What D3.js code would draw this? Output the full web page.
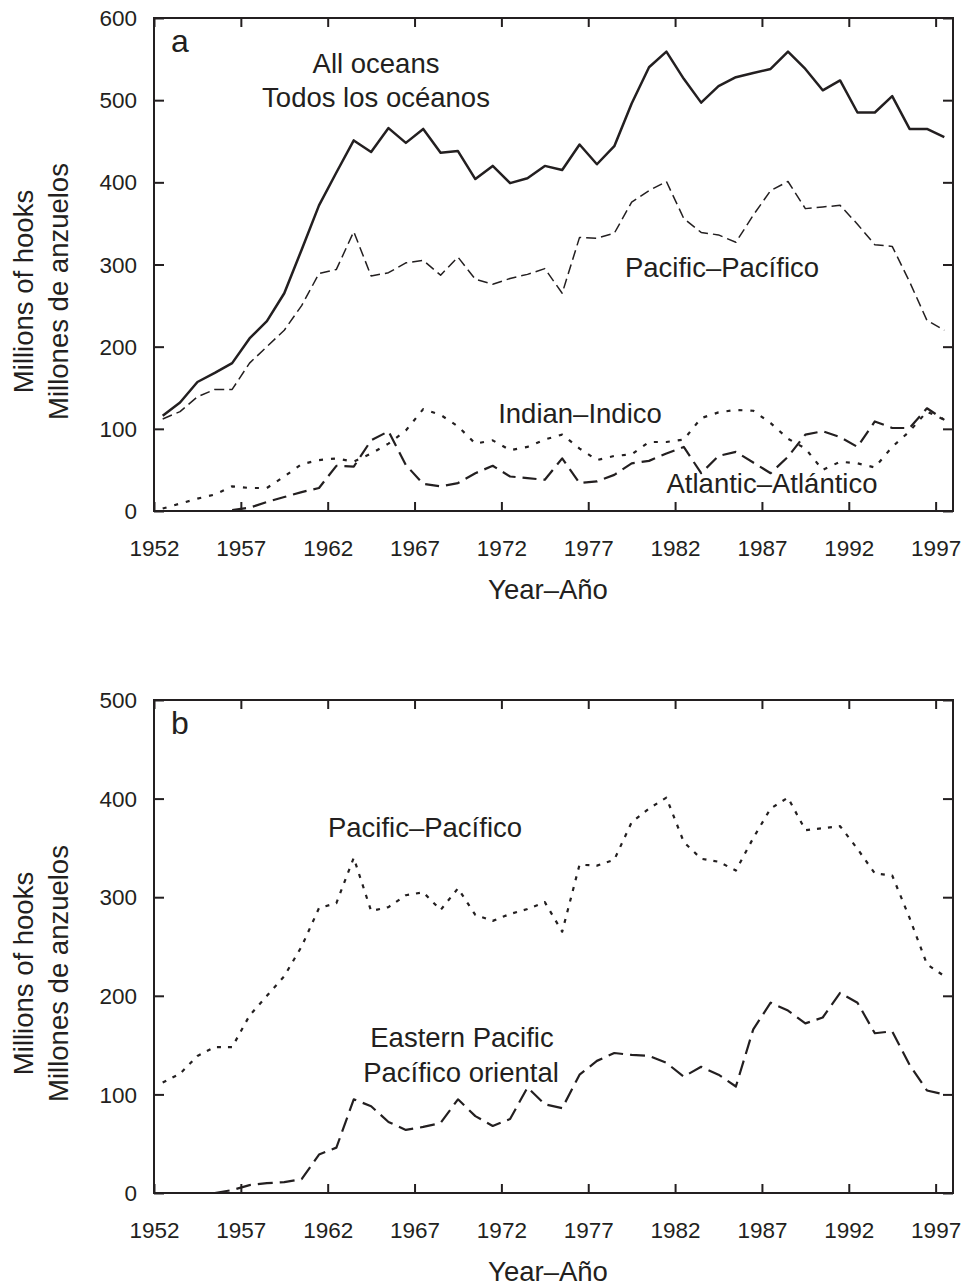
<!DOCTYPE html>
<html>
<head>
<meta charset="utf-8">
<script src="https://cdn.jsdelivr.net/npm/d3@7"></script>
<style>
  body { margin: 0; background: #fff; }
  svg { display: block; font-family: "Liberation Sans", Arial, Helvetica, sans-serif; }
  .axis text { font-size: 22.5px; fill: #231f20; }
  .axis line { stroke: #231f20; stroke-width: 2px; }
  .label { font-size: 27.5px; fill: #231f20; }
</style>
</head>
<body>
<svg id="chart"></svg>
<script>
const years = [1952, 1953, 1954, 1955, 1956, 1957, 1958, 1959, 1960, 1961,
  1962, 1963, 1964, 1965, 1966, 1967, 1968, 1969, 1970, 1971,
  1972, 1973, 1974, 1975, 1976, 1977, 1978, 1979, 1980, 1981,
  1982, 1983, 1984, 1985, 1986, 1987, 1988, 1989, 1990, 1991,
  1992, 1993, 1994, 1995, 1996, 1997];

const xTicks = [1952, 1957, 1962, 1967, 1972, 1977, 1982, 1987, 1992, 1997];
const yTicksA = [0, 100, 200, 300, 400, 500, 600];
const yTicksB = [0, 100, 200, 300, 400, 500];

// millions of hooks, one value per year
const allOceans = [116, 132, 157, 168, 180, 210, 231, 265, 318, 372,
  412, 451, 437, 466, 448, 465, 436, 438, 404, 420,
  399, 405, 420, 415, 446, 422, 444, 496, 540, 559,
  526, 497, 517, 528, 533, 538, 559, 538, 512, 524,
  485, 485, 505, 465, 465, 455];

const pacific = [112, 121, 139, 148, 148, 180, 200, 220, 250, 289,
  294, 340, 286, 290, 302, 305, 287, 309, 282, 276,
  283, 288, 295, 265, 333, 332, 338, 376, 390, 401,
  356, 339, 336, 327, 360, 390, 401, 368, 370, 372,
  349, 324, 322, 279, 232, 220];

const indian = [3, 9, 15, 20, 30, 28, 28, 42, 57, 62,
  64, 60, 70, 82, 98, 124, 117, 103, 82, 86,
  74, 78, 87, 93, 76, 62, 67, 69, 84, 84,
  87, 113, 120, 123, 122, 107, 88, 76, 50, 60,
  58, 53, 78, 97, 121, 111];

const atlantic = [null, null, null, null, 1, 4, 11, 17, 23, 28,
  55, 54, 86, 97, 56, 33, 30, 34, 46, 55,
  42, 40, 38, 64, 34, 36, 44, 58, 61, 70,
  78, 46, 67, 72, 59, 46, 66, 93, 97, 90,
  78, 109, 101, 101, 125, 111];

const easternPacific = [null, null, null, 0, 3, 8, 10, 11, 14, 39,
  46, 95, 88, 72, 64, 67, 71, 95, 78, 68,
  75, 107, 90, 86, 120, 134, 142, 140, 139, 132,
  118, 128, 120, 108, 166, 193, 185, 172, 178, 203,
  193, 162, 164, 130, 104, 100];

const ink = '#231f20';
const width = 967, height = 1286;

const svg = d3.select('#chart')
  .attr('width', width)
  .attr('height', height);

// the same year scale serves both panels
const x = d3.scaleLinear()
  .domain([1952, 1998])
  .range([154, 953]);

function drawPanel(cfg) {
  const { top, bottom, yMax, yTicks, letter, series, labels } = cfg;

  const y = d3.scaleLinear()
    .domain([0, yMax])
    .range([bottom, top]);

  const g = svg.append('g');

  g.append('g')
    .attr('class', 'axis')
    .attr('transform', `translate(0, ${bottom})`)
    .call(d3.axisBottom(x).tickValues(xTicks).tickFormat(d3.format('d'))
      .tickSizeInner(-9).tickSizeOuter(0).tickPadding(29))
    .call(s => s.select('.domain').remove());

  g.append('g')
    .attr('class', 'axis')
    .attr('transform', `translate(0, ${top})`)
    .call(d3.axisTop(x).tickValues(xTicks).tickFormat('')
      .tickSizeInner(-9).tickSizeOuter(0))
    .call(s => s.select('.domain').remove());

  g.append('g')
    .attr('class', 'axis')
    .attr('transform', `translate(${x.range()[0]}, 0)`)
    .call(d3.axisLeft(y).tickValues(yTicks)
      .tickSizeInner(-10).tickSizeOuter(0).tickPadding(17))
    .call(s => s.select('.domain').remove())
    .call(s => s.selectAll('text').attr('dy', '0.34em'));

  g.append('g')
    .attr('class', 'axis')
    .attr('transform', `translate(${x.range()[1]}, 0)`)
    .call(d3.axisRight(y).tickValues(yTicks).tickFormat('')
      .tickSizeInner(-10).tickSizeOuter(0))
    .call(s => s.select('.domain').remove());

  g.append('rect')
    .attr('x', x.range()[0])
    .attr('y', top)
    .attr('width', x.range()[1] - x.range()[0])
    .attr('height', bottom - top)
    .attr('fill', 'none')
    .attr('stroke', ink)
    .attr('stroke-width', 2);

  const line = d3.line()
    .defined(d => d.v != null)
    .x(d => x(d.year + 0.5))
    .y(d => y(d.v));

  series.forEach(s => {
    const pts = years.map((yr, i) => ({ year: yr, v: s.values[i] }));
    g.append('path')
      .datum(pts)
      .attr('d', line)
      .attr('fill', 'none')
      .attr('stroke', ink)
      .attr('stroke-width', s.width)
      .attr('stroke-dasharray', s.dash)
      .attr('stroke-linejoin', 'round');
  });

  g.append('text')
    .attr('class', 'label')
    .attr('x', 171)
    .attr('y', top + 34)
    .style('font-size', '32px')
    .text(letter);

  labels.forEach(l => {
    g.append('text')
      .attr('class', 'label')
      .attr('x', l.x)
      .attr('y', top + l.dy)
      .attr('text-anchor', l.anchor || 'middle')
      .text(l.text);
  });

  const cy = (top + bottom) / 2 + 27;
  [['Millions of hooks', 33], ['Millones de anzuelos', 68]].forEach(([t, bx]) => {
    g.append('text')
      .attr('class', 'label')
      .attr('transform', `translate(${bx}, ${cy}) rotate(-90)`)
      .attr('text-anchor', 'middle')
      .text(t);
  });

  g.append('text')
    .attr('class', 'label')
    .attr('x', 548)
    .attr('y', bottom + 88)
    .attr('text-anchor', 'middle')
    .text('Year–Año');
}

drawPanel({
  top: 18, bottom: 511, yMax: 600, yTicks: yTicksA, letter: 'a',
  series: [
    { values: allOceans, width: 2.5, dash: null },
    { values: pacific, width: 1.5, dash: '10,5' },
    { values: indian, width: 2.2, dash: '4,8' },
    { values: atlantic, width: 2.2, dash: '14,7' }
  ],
  labels: [
    { text: 'All oceans', x: 376, dy: 55 },
    { text: 'Todos los océanos', x: 376, dy: 89 },
    { text: 'Pacific–Pacífico', x: 722, dy: 259 },
    { text: 'Indian–Indico', x: 580, dy: 405 },
    { text: 'Atlantic–Atlántico', x: 772, dy: 475 }
  ]
});

drawPanel({
  top: 700, bottom: 1193, yMax: 500, yTicks: yTicksB, letter: 'b',
  series: [
    { values: pacific, width: 2.2, dash: '4,7' },
    { values: easternPacific, width: 2.2, dash: '15,7' }
  ],
  labels: [
    { text: 'Pacific–Pacífico', x: 425, dy: 137 },
    { text: 'Eastern Pacific', x: 462, dy: 347 },
    { text: 'Pacífico oriental', x: 461, dy: 382 }
  ]
});
</script>
</body>
</html>
